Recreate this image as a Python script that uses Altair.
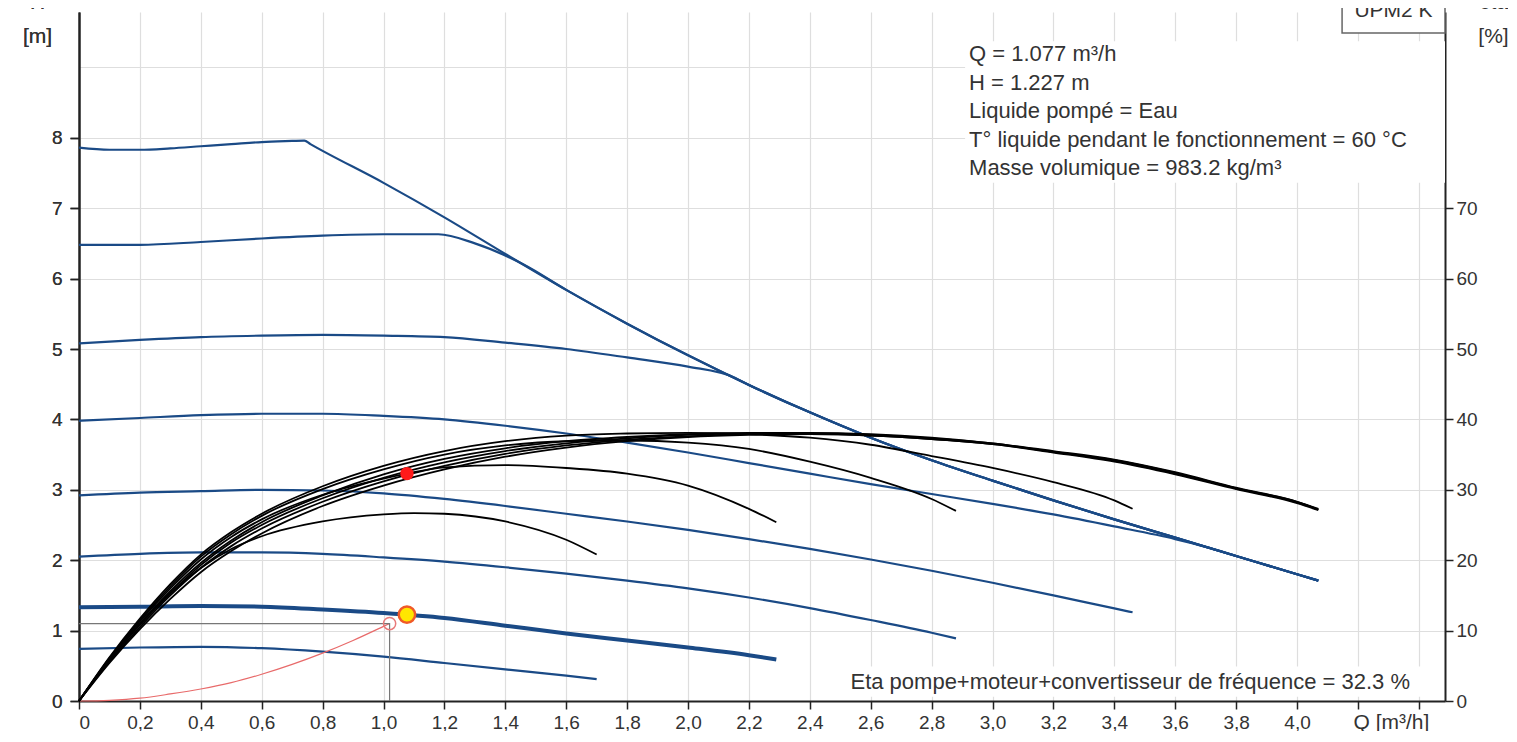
import altair as alt
import pandas as pd

FONT = "Liberation Sans"
BLUE = "#1a4a86"
TEXT = "#333333"

# ---- axis extents / ticks ----
Q_DOMAIN = [0, 4.486]
H_DOMAIN = [0, 9.787]
ETA_DOMAIN = [0, 97.87]
Q_TICKS = [0, 0.2, 0.4, 0.6, 0.8, 1.0, 1.2, 1.4, 1.6, 1.8, 2.0, 2.2, 2.4, 2.6, 2.8,
           3.0, 3.2, 3.4, 3.6, 3.8, 4.0, 4.2, 4.4]
H_TICKS = [0, 1, 2, 3, 4, 5, 6, 7, 8, 9]
ETA_TICKS = [0, 10, 20, 30, 40, 50, 60, 70]

# ---- pump curves H(Q) ----
C1_Q = [0, 0.1, 0.2, 0.3, 0.4, 0.5, 0.6, 0.7, 0.74, 0.76, 1.0, 1.2, 1.4, 1.6, 1.8, 2.0,
        2.2, 2.4, 2.6, 2.8, 3.0, 3.2, 3.4, 3.6, 3.8, 4.0, 4.07]
C1_H = [7.86, 7.83, 7.83, 7.85, 7.88, 7.91, 7.94, 7.955, 7.96, 7.91, 7.36, 6.87, 6.35, 5.84,
        5.36, 4.91, 4.49, 4.10, 3.74, 3.42, 3.13, 2.85, 2.58, 2.32, 2.06, 1.80, 1.71]
C2_Q = [0, 0.2, 0.4, 0.6, 0.8, 1.0, 1.18, 1.3, 1.46, 1.6, 1.8, 2.0, 2.2, 2.4, 2.6, 2.8,
        3.0, 3.2, 3.4, 3.6, 3.8, 4.0, 4.07]
C2_H = [6.48, 6.48, 6.52, 6.57, 6.61, 6.63, 6.63, 6.50, 6.20, 5.84, 5.36, 4.91, 4.49, 4.10,
        3.74, 3.42, 3.13, 2.85, 2.58, 2.32, 2.06, 1.80, 1.71]
C3_Q = [0, 0.2, 0.4, 0.6, 0.8, 1.0, 1.2, 1.4, 1.6, 1.8, 2.0, 2.15, 2.2, 2.4, 2.6, 2.8,
        3.0, 3.2, 3.4, 3.6, 3.8, 4.0, 4.07]
C3_H = [5.08, 5.13, 5.17, 5.19, 5.20, 5.19, 5.17, 5.09, 5.00, 4.88, 4.75, 4.60, 4.49, 4.10,
        3.74, 3.42, 3.13, 2.85, 2.58, 2.32, 2.06, 1.80, 1.71]
C4_Q = [0, 0.2, 0.4, 0.6, 0.8, 1.0, 1.2, 1.4, 1.6, 1.8, 2.0, 2.2, 2.4, 2.6, 2.8, 3.0,
        3.2, 3.4, 3.6, 3.7, 3.8, 4.0, 4.07]
C4_H = [3.98, 4.02, 4.06, 4.08, 4.08, 4.05, 4.00, 3.91, 3.80, 3.67, 3.53, 3.38, 3.23, 3.08,
        2.94, 2.80, 2.65, 2.48, 2.30, 2.19, 2.06, 1.80, 1.71]
C5_Q = [0, 0.2, 0.4, 0.6, 0.8, 1.0, 1.2, 1.4, 1.6, 1.8, 2.0, 2.2, 2.4, 2.6, 2.8, 3.0,
        3.2, 3.4, 3.46]
C5_H = [2.92, 2.96, 2.98, 3.00, 2.99, 2.95, 2.87, 2.77, 2.66, 2.55, 2.43, 2.30, 2.16, 2.01,
        1.85, 1.68, 1.50, 1.315, 1.26]
C6_Q = [0, 0.2, 0.4, 0.6, 0.8, 1.0, 1.2, 1.4, 1.6, 1.8, 2.0, 2.2, 2.4, 2.6, 2.8, 2.88]
C6_H = [2.05, 2.09, 2.11, 2.11, 2.09, 2.04, 1.98, 1.90, 1.81, 1.71, 1.60, 1.47, 1.32, 1.15,
        0.97, 0.89]
C7_Q = [0, 0.2, 0.4, 0.6, 0.8, 1.0, 1.2, 1.4, 1.6, 1.8, 2.0, 2.2, 2.29]
C7_H = [1.33, 1.34, 1.35, 1.34, 1.30, 1.25, 1.18, 1.07, 0.96, 0.86, 0.76, 0.65, 0.59]
C8_Q = [0, 0.2, 0.4, 0.6, 0.8, 1.0, 1.2, 1.4, 1.6, 1.7]
C8_H = [0.74, 0.76, 0.77, 0.75, 0.70, 0.63, 0.54, 0.45, 0.36, 0.31]

# ---- efficiency curves eta(Q) [%] ----
E14_Q = [0, 0.1, 0.2, 0.3, 0.4, 0.5, 0.6, 0.8, 1.0, 1.2, 1.4, 1.6, 1.8, 2.0, 2.2, 2.4,
         2.6, 2.8, 3.0, 3.2, 3.4, 3.6, 3.8, 4.0, 4.07]
E1 = [0, 5.4, 10.2, 14.5, 18.3, 21.3, 23.8, 27.7, 30.6, 32.9, 34.7, 36.0, 36.9, 37.5, 37.8,
      37.9, 37.7, 37.2, 36.5, 35.3, 34.0, 32.2, 30.1, 28.1, 27.1]
E2 = [0, 5.6, 10.5, 15.0, 18.9, 22.0, 24.5, 28.3, 31.2, 33.4, 35.1, 36.3, 37.1, 37.6, 37.9,
      37.9, 37.7, 37.2, 36.5, 35.4, 34.1, 32.3, 30.2, 28.2, 27.2]
E3 = [0, 5.8, 10.8, 15.3, 19.3, 22.5, 25.0, 28.8, 31.7, 33.9, 35.5, 36.6, 37.3, 37.8, 38.0,
      38.0, 37.8, 37.3, 36.6, 35.4, 34.2, 32.4, 30.2, 28.3, 27.2]
E4 = [0, 5.9, 11.0, 15.6, 19.6, 22.8, 25.4, 29.2, 32.2, 34.4, 35.9, 36.9, 37.5, 37.9, 38.1,
      38.1, 37.9, 37.4, 36.6, 35.5, 34.3, 32.5, 30.3, 28.3, 27.3]
E5_Q = [0, 0.1, 0.2, 0.3, 0.4, 0.5, 0.6, 0.8, 1.0, 1.2, 1.4, 1.6, 1.8, 2.0, 2.2, 2.4,
        2.6, 2.8, 3.0, 3.2, 3.4, 3.46]
E5 = [0, 6.2, 11.7, 16.6, 20.8, 24.0, 26.6, 30.5, 33.4, 35.5, 36.9, 37.7, 38.0, 38.1, 37.9,
      37.4, 36.4, 34.8, 33.1, 31.1, 28.5, 27.3]
E6_Q = [0, 0.1, 0.2, 0.3, 0.4, 0.5, 0.6, 0.8, 1.0, 1.2, 1.4, 1.6, 1.8, 2.0, 2.2, 2.4,
        2.6, 2.8, 2.88]
E6 = [0, 6.1, 11.5, 16.3, 20.5, 23.7, 26.3, 30.1, 32.9, 35.0, 36.3, 36.9, 37.0, 36.7, 35.8,
      34.0, 31.7, 28.7, 27.0]
E7_Q = [0, 0.1, 0.2, 0.3, 0.4, 0.5, 0.6, 0.8, 1.0, 1.077, 1.2, 1.4, 1.6, 1.8, 2.0, 2.2, 2.29]
E7 = [0, 6.0, 11.3, 16.0, 20.1, 23.3, 25.8, 29.3, 31.6, 32.3, 33.2, 33.5, 33.1, 32.3, 30.6,
      27.3, 25.4]
E8_Q = [0, 0.1, 0.2, 0.3, 0.4, 0.5, 0.6, 0.8, 1.0, 1.1, 1.2, 1.4, 1.6, 1.7]
E8 = [0, 5.9, 11.0, 15.3, 18.9, 21.6, 23.4, 25.5, 26.5, 26.7, 26.6, 25.5, 22.9, 20.8]

# ---- system curve and duty point ----
SYS_Q = [0, 0.1, 0.2, 0.3, 0.4, 0.5, 0.6, 0.7, 0.8, 0.9, 1.0, 1.02]
SYS_H = [0, 0.01, 0.04, 0.10, 0.17, 0.26, 0.38, 0.52, 0.68, 0.86, 1.06, 1.10]
GUIDE_Q = [0, 1.02, 1.02]
GUIDE_H = [1.10, 1.10, 0]
REQ_Q, REQ_H = [1.02], [1.10]
DUTY_Q, DUTY_H = [1.077], [1.227]
DUTY_ETA = [32.3]

# ---- annotations ----
INFO_LINES = ["Q = 1.077 m³/h", "H = 1.227 m", "Liquide pompé = Eau",
              "T° liquide pendant le fonctionnement = 60 °C",
              "Masse volumique = 983.2 kg/m³"]
INFO_POS = [2.923, 9.09]
INFO_BOX = [2.91, 4.486, 7.36, 9.37]
ETA_TEXT = "Eta pompe+moteur+convertisseur de fréquence = 32.3 %"
ETA_TEXT_POS = [4.371, 0.17]
ETA_BOX = [2.49, 4.43, 0.06, 0.49]
TAG_TEXT = "UPM2 K"
TAG_POS = [4.317, 9.72]
TAG_BOX = [4.148, 4.486, 9.49, 10.6]


def long_df(curves, yname):
    rows = []
    for name, qs, vs in curves:
        for i, (q, v) in enumerate(zip(qs, vs)):
            rows.append({"curve": name, "i": i, "Q": q, yname: v})
    return pd.DataFrame(rows)


blue_df = long_df([("C1", C1_Q, C1_H), ("C2", C2_Q, C2_H), ("C3", C3_Q, C3_H),
                   ("C4", C4_Q, C4_H), ("C5", C5_Q, C5_H), ("C6", C6_Q, C6_H),
                   ("C8", C8_Q, C8_H)], "H")
op_df = long_df([("C7", C7_Q, C7_H)], "H")
eta_df = long_df([("E1", E14_Q, E1), ("E2", E14_Q, E2), ("E3", E14_Q, E3),
                  ("E4", E14_Q, E4), ("E5", E5_Q, E5), ("E6", E6_Q, E6),
                  ("E7", E7_Q, E7), ("E8", E8_Q, E8)], "eta")
sys_df = long_df([("sys", SYS_Q, SYS_H)], "H")
guide_df = long_df([("guide", GUIDE_Q, GUIDE_H)], "H")
req_df = pd.DataFrame({"Q": REQ_Q, "H": REQ_H})
duty_df = pd.DataFrame({"Q": DUTY_Q, "H": DUTY_H})
duty_eta_df = pd.DataFrame({"Q": DUTY_Q, "eta": DUTY_ETA})


def box_df(b):
    return pd.DataFrame({"x1": [b[0]], "x2": [b[1]], "y1": [b[2]], "y2": [b[3]]})


info_df = pd.DataFrame({"Q": [INFO_POS[0]], "H": [INFO_POS[1]], "text": ["\n".join(INFO_LINES)]})
etat_df = pd.DataFrame({"Q": [ETA_TEXT_POS[0]], "H": [ETA_TEXT_POS[1]], "text": [ETA_TEXT]})
tag_df = pd.DataFrame({"Q": [TAG_POS[0]], "H": [TAG_POS[1]], "text": [TAG_TEXT]})

# ---- axes ----
common_axis = dict(labelFont=FONT, titleFont=FONT, labelColor=TEXT, titleColor=TEXT,
                   titleFontWeight="normal", domainColor="#222222", domainWidth=2,
                   tickColor="#222222", tickWidth=1.5)

x_axis = alt.Axis(
    values=Q_TICKS,
    labelExpr="datum.value > 4.1 ? '' : (datum.value == 0 ? '0' : replace(format(datum.value, '.1f'), '.', ','))",
    title="Q [m³/h]", titleX=1274, titleY=21, titleAlign="left", titleBaseline="middle",
    titleAngle=0, titleFontSize=21, labelFontSize=19, tickSize=8, labelPadding=4,
    grid=True, gridColor="#dedede", gridWidth=1.2, **common_axis)

h_axis = alt.Axis(
    orient="left", values=H_TICKS, labelExpr="datum.value > 8.5 ? '' : datum.label",
    title=["H", "[m]"], titleAngle=0, titleAlign="center", titleX=-42, titleY=0,
    titleBaseline="bottom", titleLineHeight=34, titleFontSize=21, labelFontSize=19,
    tickSize=9, labelPadding=8, grid=True, gridColor="#dedede", gridWidth=1.2,
    tickOpacity={"condition": {"test": "datum.value > 8.5", "value": 0}, "value": 1},
    **common_axis)

eta_axis = alt.Axis(
    orient="right", values=ETA_TICKS, title=["eta", "[%]"], titleAngle=0,
    titleAlign="center", titleX=48, titleY=0, titleBaseline="bottom",
    titleLineHeight=34, titleFontSize=21, labelFontSize=19, tickSize=8,
    labelPadding=3, grid=False, **common_axis)

xs = alt.Scale(domain=Q_DOMAIN, nice=False, zero=False)
hs = alt.Scale(domain=H_DOMAIN, nice=False, zero=False)
es = alt.Scale(domain=ETA_DOMAIN, nice=False, zero=False)


def X(f):
    return alt.X(f"{f}:Q", scale=xs, axis=x_axis)


def YH(f):
    return alt.Y(f"{f}:Q", scale=hs, axis=h_axis)


def YE(f):
    return alt.Y(f"{f}:Q", scale=es, axis=eta_axis)


def rect_layer(b, stroke=None):
    kw = dict(fill="white")
    if stroke:
        kw.update(stroke=stroke, strokeWidth=1.5)
    else:
        kw.update(strokeWidth=0)
    return alt.Chart(box_df(b)).mark_rect(**kw).encode(
        x=X("x1"), x2="x2", y=YH("y1"), y2="y2")


box_info = rect_layer(INFO_BOX)
box_eta = rect_layer(ETA_BOX)
box_tag = rect_layer(TAG_BOX, stroke="#666666")

blue_lines = alt.Chart(blue_df).mark_line(color=BLUE, strokeWidth=2.2, interpolate="monotone").encode(
    x=X("Q"), y=YH("H"), detail="curve:N", order="i:Q")
op_line = alt.Chart(op_df).mark_line(color=BLUE, strokeWidth=4, interpolate="monotone").encode(
    x=X("Q"), y=YH("H"), detail="curve:N", order="i:Q")
sys_line = alt.Chart(sys_df).mark_line(color="#e86a6a", strokeWidth=1.2, interpolate="monotone").encode(
    x=X("Q"), y=YH("H"), order="i:Q")
guide_line = alt.Chart(guide_df).mark_line(color="#777777", strokeWidth=1.2).encode(
    x=X("Q"), y=YH("H"), order="i:Q")
req_pt = alt.Chart(req_df).mark_point(shape="circle", filled=False, size=150, stroke="#e87a7a",
                                      strokeWidth=1.5, opacity=1).encode(x=X("Q"), y=YH("H"))
duty_pt = alt.Chart(duty_df).mark_point(shape="circle", filled=True, size=270, fill="#ffe600",
                                        stroke="#f05a28", strokeWidth=2.5, opacity=1).encode(
    x=X("Q"), y=YH("H"))

info_text = alt.Chart(info_df).mark_text(align="left", baseline="alphabetic", lineBreak="\n",
                                         lineHeight=28.5, fontSize=22, font=FONT, color=TEXT).encode(
    x=X("Q"), y=YH("H"), text="text:N")
eta_text = alt.Chart(etat_df).mark_text(align="right", baseline="alphabetic", fontSize=22,
                                        font=FONT, color=TEXT).encode(
    x=X("Q"), y=YH("H"), text="text:N")
tag_text = alt.Chart(tag_df).mark_text(align="center", baseline="alphabetic", fontSize=21,
                                       font=FONT, color=TEXT).encode(
    x=X("Q"), y=YH("H"), text="text:N")

eta_lines = alt.Chart(eta_df).mark_line(color="#000000", strokeWidth=1.8, interpolate="monotone").encode(
    x=X("Q"), y=YE("eta"), detail="curve:N", order="i:Q")
eta_pt = alt.Chart(duty_eta_df).mark_point(shape="circle", filled=True, size=180, color="#ff1a1a",
                                           opacity=1).encode(x=X("Q"), y=YE("eta"))

left = alt.layer(box_info, box_eta, box_tag, blue_lines, op_line, sys_line, guide_line,
                 req_pt, info_text, eta_text, tag_text)
right = alt.layer(eta_lines, eta_pt)

chart = alt.layer(left, right, duty_pt).resolve_scale(y="independent").properties(
    width=1366, height=689,
    padding={"left": 71, "top": 4, "right": 63, "bottom": 30},
    autosize=alt.AutoSizeParams(type="none"),
    background="white",
).configure_view(stroke=None)

chart.save("out.html", embed_options={"renderer": "svg", "actions": False})
